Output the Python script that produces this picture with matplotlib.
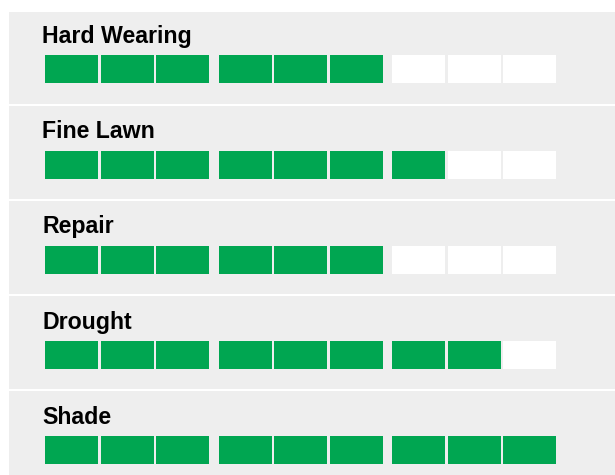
import matplotlib
matplotlib.use("Agg")
import matplotlib.pyplot as plt

# donnees
categories = ["Hard Wearing", "Fine Lawn", "Repair", "Drought", "Shade"]
scores = [6, 7, 6, 8, 9]
max_score = 9

GREEN = "#00a651"
GREY = "#eeeeee"

W, H = 615, 475
fig = plt.figure(figsize=(W / 100, H / 100), dpi=100)
ax = fig.add_axes([0, 0, 1, 1])
ax.set_xlim(0, W)
ax.set_ylim(H, 0)
ax.axis("off")

# fond gris des panneaux + separateurs blancs
ax.add_patch(plt.Rectangle((9, 12), W - 9, H - 12, color=GREY, lw=0, zorder=0))
row_pitch = 95
for r in range(1, len(categories)):
    y = 10 + r * row_pitch
    ax.plot([9, W], [y, y], color="white", lw=1.5, zorder=1)

# segments : 3 groupes de 3
seg_w = 53
seg_h = 28
def seg_left(i):
    return 45 + (i // 3) * 173.5 + (i % 3) * 55.5

lefts = [seg_left(i) for i in range(max_score)]
for r, (cat, sc) in enumerate(zip(categories, scores)):
    top = 55 + r * row_pitch + (1 if r > 0 else 0)
    colors = [GREEN if i < sc else "white" for i in range(max_score)]
    ax.barh([top + seg_h / 2] * max_score, [seg_w] * max_score, left=lefts,
            height=seg_h, color=colors, lw=0, zorder=2)
    ax.text(42, top - 12.5, cat, fontsize=16.7, fontweight="bold",
            family=["Liberation Sans", "DejaVu Sans"], color="#000000",
            va="baseline", ha="left", zorder=3)

fig.savefig("out.png", dpi=100)
